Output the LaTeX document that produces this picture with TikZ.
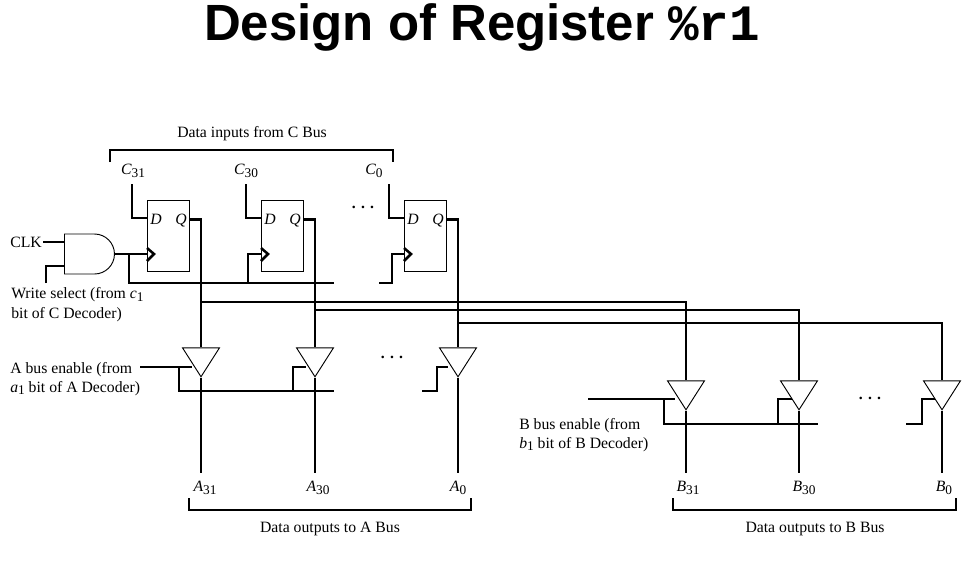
\documentclass[tikz,border=0pt]{standalone}
\usepackage{fontspec}
\setmainfont{Liberation Serif}
\newfontfamily\titlefont{Liberation Sans}
\newfontfamily\titlemono{Liberation Mono}
\usetikzlibrary{positioning, calc, shapes.geometric, shapes.gates.logic.US}
\newcommand{\sig}[2]{\textit{#1}{\fontsize{10}{10}\selectfont\raisebox{-2pt}{#2}}}
\tikzset{
  wire/.style = {line width=1.9pt},
  thinwire/.style = {line width=1pt},
  lab/.style = {font=\fontsize{11.8}{14}\selectfont, align=left, inner sep=0pt},
  ffbox/.style = {draw, line width=.7pt, minimum width=31.5pt, minimum height=53pt, inner sep=0pt},
  buffer/.style = {draw, line width=.7pt, isosceles triangle, isosceles triangle stretches,
    shape border rotate=-90, minimum width=27.75pt, minimum height=21.75pt, inner sep=0pt, anchor=apex}
}
\begin{document}
\begin{tikzpicture}[x=.75pt, y=-.75pt]
\useasboundingbox (0,0) rectangle (968,572);
\node (title) at (482,27) {\fontsize{38.2}{40}\selectfont\titlefont\bfseries Design of Register {\titlemono\bfseries\%r1}};

% clock gate
\node [draw, line width=.7pt, and gate US, logic gate inputs=nn, minimum width=36.75pt, minimum height=30pt, inner sep=0pt, anchor=west] (andgate) at (64,254) {};
\node [lab, anchor=west] (clk) at (10,242) {CLK};
\node [lab, anchor=north west] (wsel) at (11,287) {Write select (from \sig{c}{1}\\[1pt]bit of C Decoder)};
\coordinate (wselend) at (46,283);
\coordinate (clkline) at (129,283);
\draw [wire] (clk.east) ++(1,0) -- (clk.east -| andgate.west);
\draw [wire] (wselend) |- (andgate.west |- 0,266);
\draw [wire] (andgate.east) -- (147,254);
\draw [wire] (andgate.east -| clkline) -- (clkline) -- (334,283);

% registers
\foreach \name/\fx/\cx/\qx/\lab/\lx/\wstyle in {a/147/132/201/{\sig{C}{31}}/133/wire, b/261/246/315/{\sig{C}{30}}/246/wire, c/404/389/458/{\sig{C}{0}}/374/thinwire} {
  \node [ffbox, anchor=north west] (ff\name) at (\fx,200) {};
  \node [lab, anchor=base west] (d\name) at (\fx+3,224) {\textit{D}};
  \node [lab, anchor=base east] (q\name) at (\fx+40,224) {\textit{Q}};
  \node [lab] (cin\name) at (\lx,171) {\lab};
  \coordinate (ctop\name) at (\cx,184);
  \draw [\wstyle] (ctop\name) |- (ff\name.west |- 0,218);
  \draw [wire] (\fx,248) -- (\fx+7,254) -- (\fx,261);
}
\coordinate (clkb) at (248,283);
\coordinate (clkc) at (379,283);
\draw [wire] (clkb) |- (ffb.west |- 0,254);
\draw [wire] (clkc) -- (392,283) |- (ffc.west |- 0,254);

% bracket on top
\node [lab] (cbus) at (252,134) {Data inputs from C Bus};
\coordinate (cbl) at (110,162);
\coordinate (cbr) at (393,162);
\draw [line width=1.5pt] (cbl) |- (251,149.5) -| (cbr);
\node [lab] (cdots) at (363,207) {\textbf{. . .}};

% A and B buffers
\foreach \name/\gx/\ox/\lab in {a/201/205/{\sig{A}{31}}, b/315/318/{\sig{A}{30}}, c/458/458/{\sig{A}{0}}} {
  \node [buffer] (ga\name) at (\gx,378) {};
  \node [lab] (outa\name) at (\ox,488) {\lab};
  \coordinate (aend\name) at (\gx,473);
  \draw [wire] (ff\name.east |- 0,219.5) -| (ga\name.north);
  \draw [wire] (ga\name.apex) -- (aend\name);
}
\foreach \name/\gx/\ox/\lab/\wstyle/\by in {a/686/688/{\sig{B}{31}}/wire/302, b/799/804/{\sig{B}{30}}/thinwire/310, c/942/944/{\sig{B}{0}}/wire/323} {
  \node [buffer] (gb\name) at (\gx,411) {};
  \node [lab] (outb\name) at (\ox,488) {\lab};
  \coordinate (bend\name) at (\gx,473);
  \draw [\wstyle] (ga\name.north |- 0,\by) -| (gb\name.north);
  \draw [wire] (gb\name.apex) -- (bend\name);
}

% enable lines
\node [lab, anchor=north west] (aen) at (10,362) {A bus enable (from\\\sig{a}{1} bit of A Decoder)};
\coordinate (aenl) at (140,367);
\draw [wire] (aenl) -- (192,367);
\draw [wire] (179,367) |- (334,391);
\draw [wire] (293,391) |- (306,367);
\draw [wire] (422,391) -| (437,367) -- (448,367);
\node [lab] (adots) at (392,357) {\textbf{. . .}};

\node [lab, anchor=north west] (ben) at (519,418) {B bus enable (from\\\sig{b}{1} bit of B Decoder)};
\coordinate (benl) at (588,399);
\draw [wire] (benl) -- (675,399);
\draw [wire] (664,399) |- (818,424);
\draw [wire] (778,424) |- (792,399);
\draw [wire] (906,424) -| (922,399) -- (935,399);
\node [lab] (bdots) at (870,398) {\textbf{. . .}};

% brackets below
\node [lab] (abus) at (330,529) {Data outputs to A Bus};
\coordinate (abl) at (189,498);
\coordinate (abr) at (471,498);
\draw [line width=1.5pt] (abl) |- (330,510) -| (abr);
\node [lab] (bbus) at (815,529) {Data outputs to B Bus};
\coordinate (bbl) at (673,498);
\coordinate (bbr) at (956,498);
\draw [line width=1.5pt] (bbl) |- (815,510) -| (bbr);
\end{tikzpicture}
\end{document}
